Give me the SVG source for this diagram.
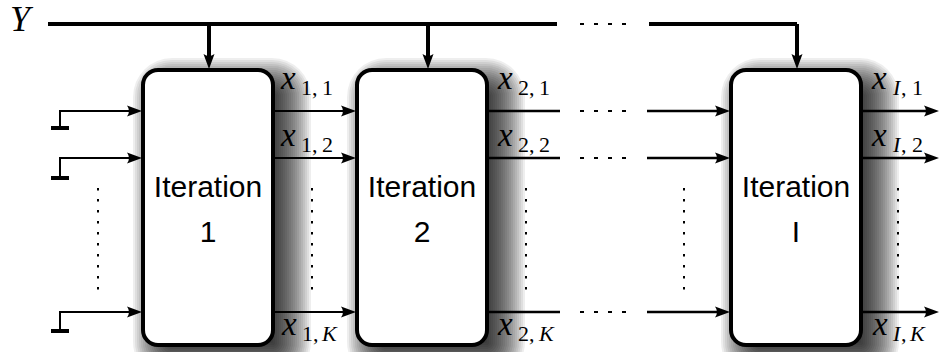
<svg xmlns="http://www.w3.org/2000/svg" xmlns:xlink="http://www.w3.org/1999/xlink" width="940" height="352" viewBox="0 0 940 352">
  <style>
    .box { fill: #fff; stroke: #000; stroke-width: 4; }
    .shade rect { fill: #000; fill-opacity: 0.065; }
    .lbl { font-family: "Liberation Sans", Arial, sans-serif; font-size: 30px; text-anchor: middle; fill: #000; }
    .m { font-family: "Liberation Serif", "Times New Roman", serif; font-style: italic; font-size: 33px; fill: #000; }
    .s { font-style: normal; font-size: 22px; }
    .si { font-style: italic; font-size: 22px; }
    .bus { fill: none; stroke: #000; stroke-width: 4; }
    .w { fill: none; stroke: #000; stroke-width: 2; }
    .w3 { fill: none; stroke: #000; stroke-width: 2.6; }
    .gnd { fill: none; stroke: #000; stroke-width: 4; }
    .dots { fill: none; stroke: #000; stroke-width: 2; stroke-dasharray: 2.5 8.5; }
    .dash { fill: none; stroke: #000; stroke-width: 2; stroke-dasharray: 4 10; }
    .head { fill: #000; }
  </style>
  <defs>
    <!-- soft drop shadow (offset right/down) built from stacked translucent rounded rects; box is 130x275 -->
    <g id="shadow" class="shade" transform="translate(0,6)">
      <rect x="28" y="20" width="102" height="247" rx="2"/>
      <rect x="26" y="18" width="106" height="251" rx="3"/>
      <rect x="24" y="16" width="110" height="255" rx="5"/>
      <rect x="22" y="14" width="114" height="259" rx="7"/>
      <rect x="20" y="12" width="118" height="263" rx="9"/>
      <rect x="18" y="10" width="122" height="267" rx="11"/>
      <rect x="16" y="8" width="126" height="271" rx="13"/>
      <rect x="14" y="6" width="130" height="275" rx="15"/>
      <rect x="12" y="4" width="134" height="279" rx="17"/>
      <rect x="10" y="2" width="138" height="283" rx="19"/>
      <rect x="8" y="0" width="142" height="287" rx="21"/>
      <rect x="6" y="-2" width="146" height="291" rx="23"/>
      <rect x="4" y="-4" width="150" height="295" rx="25"/>
      <rect x="2" y="-6" width="154" height="299" rx="27"/>
      <rect x="0" y="-8" width="158" height="303" rx="29"/>
      <rect x="-2" y="-10" width="162" height="307" rx="31"/>
      <rect x="-4" y="-12" width="166" height="311" rx="33"/>
      <rect x="-6" y="-14" width="170" height="315" rx="35"/>
      <rect x="-8" y="-16" width="174" height="319" rx="37"/>
      <rect x="-10" y="-18" width="178" height="323" rx="39"/>
    </g>
    <!-- arrowhead pointing right, tip at origin -->
    <path id="ah" class="head" d="M0 0 L-15 -5.5 Q-11 0 -15 5.5 Z"/>
  </defs>

  <rect width="940" height="352" fill="#fff"/>

  <!-- iteration blocks -->
  <g id="iter1">
    <use xlink:href="#shadow" x="143" y="70"/>
    <rect class="box" x="143" y="70" width="130" height="275" rx="15"/>
    <text class="lbl" x="208" y="197">Iteration</text>
    <text class="lbl" x="208" y="242">1</text>
  </g>
  <g id="iter2">
    <use xlink:href="#shadow" x="357" y="70"/>
    <rect class="box" x="357" y="70" width="130" height="275" rx="15"/>
    <text class="lbl" x="422" y="197">Iteration</text>
    <text class="lbl" x="422" y="242">2</text>
  </g>
  <g id="iterI">
    <use xlink:href="#shadow" x="731" y="70"/>
    <rect class="box" x="731" y="70" width="130" height="275" rx="15"/>
    <text class="lbl" x="796" y="197">Iteration</text>
    <text class="lbl" x="796" y="242">I</text>
  </g>

  <!-- observation bus -->
  <g id="bus">
    <text class="m" x="10" y="31" style="font-size:36px">Y</text>
    <path class="bus" d="M48 24 H557"/>
    <path class="dash" d="M580 24 H626"/>
    <path class="bus" d="M649 24 H797"/>
  </g>

  <g id="connectors">
    <!-- bus taps -->
    <path class="bus" d="M209 24 V56"/>
    <use xlink:href="#ah" transform="translate(209,69) rotate(90)"/>
    <path class="bus" d="M428 24 V56"/>
    <use xlink:href="#ah" transform="translate(428,69) rotate(90)"/>
    <path class="bus" d="M797 24 V56"/>
    <use xlink:href="#ah" transform="translate(797,69) rotate(90)"/>

    <!-- grounded inputs of iteration 1 -->
    <path class="w" d="M60 128 V111 H130"/>
    <path class="gnd" d="M51 128 H69"/>
    <use xlink:href="#ah" transform="translate(142,111)"/>
    <path class="w" d="M60 178 V158 H130"/>
    <path class="gnd" d="M51 178 H69"/>
    <use xlink:href="#ah" transform="translate(142,158)"/>
    <path class="w" d="M60 331 V312 H130"/>
    <path class="gnd" d="M51 331 H69"/>
    <use xlink:href="#ah" transform="translate(142,312)"/>
    <path class="dots" d="M98 188 V290"/>

    <!-- iteration 1 to iteration 2 -->
    <path class="w" d="M275 111 H344"/>
    <use xlink:href="#ah" transform="translate(356,111)"/>
    <path class="w" d="M275 158 H344"/>
    <use xlink:href="#ah" transform="translate(356,158)"/>
    <path class="w" d="M275 312 H344"/>
    <use xlink:href="#ah" transform="translate(356,312)"/>
    <path class="dots" d="M312 188 V290"/>

    <!-- iteration 2 outputs, elided stages -->
    <path class="w3" d="M489 111 H560"/>
    <path class="dash" d="M580 111 H626"/>
    <path class="w3" d="M489 158 H560"/>
    <path class="dash" d="M580 158 H626"/>
    <path class="w3" d="M489 312 H560"/>
    <path class="dash" d="M580 312 H626"/>
    <path class="dots" d="M526 188 V290"/>

    <!-- into iteration I -->
    <path class="w3" d="M647 111 H718"/>
    <use xlink:href="#ah" transform="translate(730,111)"/>
    <path class="w3" d="M647 158 H718"/>
    <use xlink:href="#ah" transform="translate(730,158)"/>
    <path class="w3" d="M647 312 H718"/>
    <use xlink:href="#ah" transform="translate(730,312)"/>
    <path class="dots" d="M684 188 V290"/>

    <!-- final outputs -->
    <path class="w3" d="M863 111 H926"/>
    <use xlink:href="#ah" transform="translate(939,111)"/>
    <path class="w3" d="M863 158 H926"/>
    <use xlink:href="#ah" transform="translate(939,158)"/>
    <path class="w3" d="M863 312 H926"/>
    <use xlink:href="#ah" transform="translate(939,312)"/>
    <path class="dots" d="M898 188 V290"/>
  </g>

  <!-- signal labels -->
  <g id="labels">
    <text class="m" x="281" y="89">x<tspan class="s" x="301" y="95">1,</tspan><tspan class="s" x="322" y="95">1</tspan></text>
    <text class="m" x="281" y="146">x<tspan class="s" x="301" y="152">1,</tspan><tspan class="s" x="322" y="152">2</tspan></text>
    <text class="m" x="282" y="335">x<tspan class="s" x="302" y="341">1,</tspan><tspan class="si" x="322" y="341">K</tspan></text>

    <text class="m" x="498" y="89">x<tspan class="s" x="518" y="95">2,</tspan><tspan class="s" x="539" y="95">1</tspan></text>
    <text class="m" x="498" y="146">x<tspan class="s" x="518" y="152">2,</tspan><tspan class="s" x="539" y="152">2</tspan></text>
    <text class="m" x="498" y="335">x<tspan class="s" x="518" y="341">2,</tspan><tspan class="si" x="539" y="341">K</tspan></text>

    <text class="m" x="872" y="89">x<tspan class="si" x="893" y="95">I</tspan><tspan class="s" x="901" y="95">,</tspan><tspan class="s" x="912" y="95">1</tspan></text>
    <text class="m" x="872" y="146">x<tspan class="si" x="893" y="152">I</tspan><tspan class="s" x="901" y="152">,</tspan><tspan class="s" x="912" y="152">2</tspan></text>
    <text class="m" x="873" y="335">x<tspan class="si" x="893" y="341">I</tspan><tspan class="s" x="901" y="341">,</tspan><tspan class="si" x="910" y="341">K</tspan></text>
  </g>
</svg>
